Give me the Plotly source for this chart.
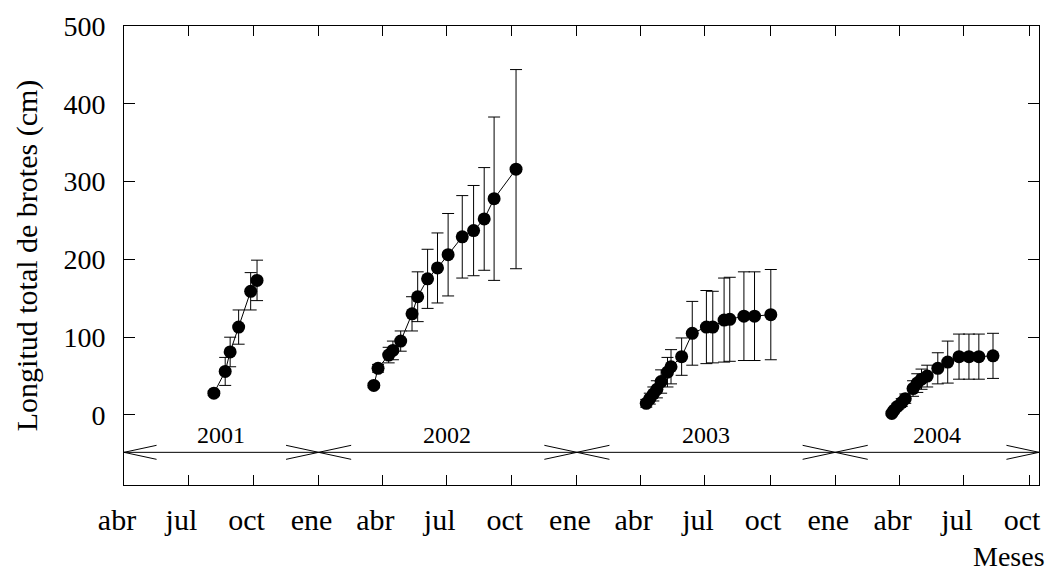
import pandas as pd
import plotly.graph_objects as go

# ---- data ----
dates_2001 = ["2001-08-06", "2001-08-22", "2001-08-29", "2001-09-10", "2001-09-27", "2001-10-06"]
vals_2001 = [28, 56, 81, 113, 159, 173]
err_2001 = [3, 18, 19, 22, 24, 26]

dates_2002 = ["2002-03-20", "2002-03-26", "2002-04-10", "2002-04-16", "2002-04-27", "2002-05-13",
              "2002-05-21", "2002-06-04", "2002-06-18", "2002-07-03", "2002-07-23", "2002-08-08",
              "2002-08-23", "2002-09-06", "2002-10-07"]
vals_2002 = [38, 60, 77, 83, 95, 130, 152, 175, 189, 206, 229, 237, 252, 278, 316]
err_2002 = [3, 5, 10, 12, 13, 22, 32, 38, 45, 53, 53, 58, 66, 105, 128]

dates_2003 = ["2003-04-09", "2003-04-14", "2003-04-19", "2003-04-24", "2003-04-30", "2003-05-09",
              "2003-05-14", "2003-05-29", "2003-06-13", "2003-07-03", "2003-07-12", "2003-07-28",
              "2003-08-05", "2003-08-25", "2003-09-09", "2003-10-02"]
vals_2003 = [15, 21, 27, 33, 43, 55, 62, 75, 105, 113, 113, 122, 123, 127, 127, 129]
err_2003 = [5, 7, 9, 11, 15, 19, 22, 24, 41, 47, 46, 54, 54, 57, 57, 58]

dates_2004 = ["2004-03-21", "2004-03-24", "2004-03-29", "2004-04-04", "2004-04-09", "2004-04-20",
              "2004-04-26", "2004-05-02", "2004-05-10", "2004-05-25", "2004-06-08", "2004-06-24",
              "2004-07-08", "2004-07-22", "2004-08-11"]
vals_2004 = [2, 6, 11, 16, 21, 34, 41, 46, 50, 60, 68, 75, 75, 75, 76]
err_2004 = [2, 3, 4, 5, 6, 10, 12, 13, 14, 20, 27, 29, 29, 29, 29]

tick_dates = ["2001-04-01", "2001-07-01", "2001-10-01", "2002-01-01", "2002-04-01", "2002-07-01",
              "2002-10-01", "2003-01-01", "2003-04-01", "2003-07-01", "2003-10-01", "2004-01-01",
              "2004-04-01", "2004-07-01", "2004-10-01"]
tick_labels = ["abr", "jul", "oct", "ene"] * 3 + ["abr", "jul", "oct"]

period_labels = ["2001", "2002", "2003", "2004"]
period_starts = ["2001-04-01", "2002-01-01", "2003-01-01", "2004-01-01"]
period_ends = ["2002-01-01", "2003-01-01", "2004-01-01", "2004-10-15"]
period_y = -48
period_label_y = -26

x_range = ["2001-04-01", "2004-10-15"]
y_range = [-90, 500]

FONT = "Liberation Serif"

fig = go.Figure()
for d, v, e in [(dates_2001, vals_2001, err_2001), (dates_2002, vals_2002, err_2002),
                (dates_2003, vals_2003, err_2003), (dates_2004, vals_2004, err_2004)]:
    fig.add_trace(go.Scatter(
        x=d, y=v, mode="lines+markers",
        line=dict(color="black", width=1),
        marker=dict(color="black", size=13),
        error_y=dict(type="data", array=e, visible=True, color="black", thickness=1, width=6),
        showlegend=False,
    ))

# period arrows
head_len = pd.Timedelta(days=46)
head_h = 9
shapes = []
annotations = []
for lab, s, e in zip(period_labels, period_starts, period_ends):
    s_ts, e_ts = pd.Timestamp(s), pd.Timestamp(e)
    shapes.append(dict(type="line", xref="x", yref="y", x0=s, x1=e, y0=period_y, y1=period_y,
                       line=dict(color="black", width=1)))
    for sign in (1, -1):
        shapes.append(dict(type="line", xref="x", yref="y", x0=s, y0=period_y,
                           x1=str((s_ts + head_len).date()), y1=period_y + sign * head_h,
                           line=dict(color="black", width=1)))
        shapes.append(dict(type="line", xref="x", yref="y", x0=e, y0=period_y,
                           x1=str((e_ts - head_len).date()), y1=period_y + sign * head_h,
                           line=dict(color="black", width=1)))
    mid = s_ts + (e_ts - s_ts) / 2
    annotations.append(dict(x=str(mid.date()), y=period_label_y, xref="x", yref="y", text=lab,
                            showarrow=False, font=dict(family=FONT, size=24, color="black")))

annotations.append(dict(x=1.009, y=-0.194, xref="paper", yref="paper", text="Meses",
                        xanchor="right", yanchor="bottom", showarrow=False,
                        font=dict(family=FONT, size=28, color="black")))

fig.update_layout(
    width=1052, height=575,
    margin=dict(l=124, r=13, t=26, b=90),
    paper_bgcolor="white", plot_bgcolor="white",
    font=dict(family=FONT, size=28, color="black"),
    shapes=shapes, annotations=annotations,
    xaxis=dict(
        type="date", range=x_range, tickmode="array", tickvals=tick_dates, ticktext=tick_labels,
        ticks="inside", ticklen=10, tickcolor="black", tickwidth=1,
        showline=True, linecolor="black", linewidth=1, mirror="ticks",
        showgrid=False, zeroline=False, ticklabelshift=-7, ticklabelstandoff=8,
        tickfont=dict(family=FONT, size=30, color="black"),
    ),
    yaxis=dict(
        range=y_range, tickmode="array", tickvals=[0, 100, 200, 300, 400, 500],
        ticks="inside", ticklen=11, tickcolor="black", tickwidth=1,
        showline=True, linecolor="black", linewidth=1, mirror="ticks",
        showgrid=False, zeroline=False, ticklabelstandoff=12,
        tickfont=dict(family=FONT, size=28, color="black"),
        title=dict(text="Longitud total de brotes (cm)", standoff=16,
                   font=dict(family=FONT, size=30, color="black")),
    ),
)

fig.write_html("out.html")
